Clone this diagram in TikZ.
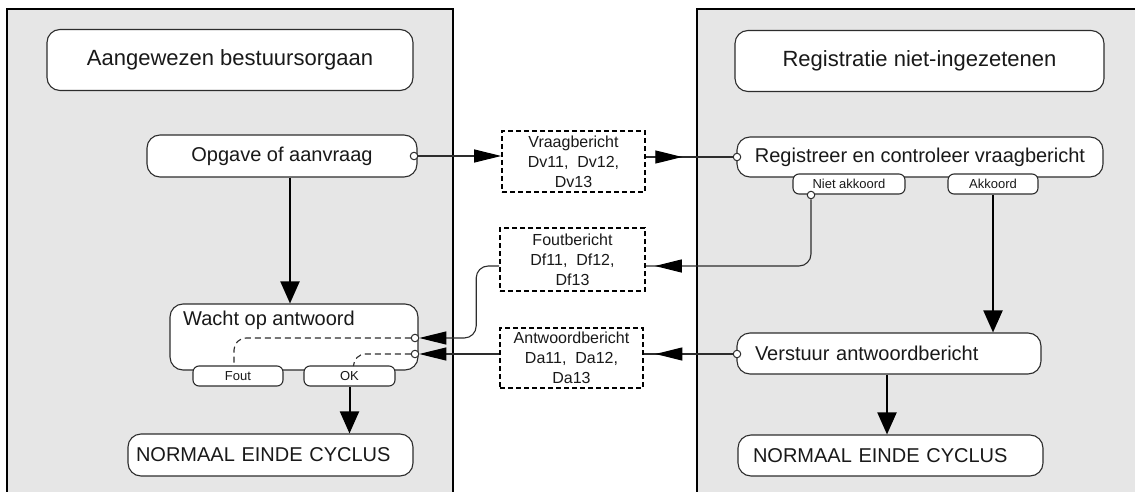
\documentclass[tikz,border=0pt]{standalone}
\usepackage{fontspec}
\setmainfont{Liberation Sans}
\usetikzlibrary{arrows.meta,decorations.markings}
\definecolor{lanegray}{RGB}{230,230,230}
\definecolor{edgegray}{RGB}{45,45,45}
\definecolor{ink}{RGB}{25,25,25}
\tikzset{act/.style={draw=edgegray, line width=1.1pt, fill=white, rounded corners=13pt, text=ink, inner sep=0pt, font=\fontsize{20}{24}\selectfont}}
\tikzset{head/.style={act, font=\fontsize{22}{26}\selectfont, minimum height=61pt}}
\tikzset{msg/.style={draw=black, line width=1.6pt, dash pattern=on 5pt off 3pt, fill=white, text=ink, align=center, inner sep=0pt, font=\fontsize{16}{20}\selectfont}}
\tikzset{tab/.style={draw=edgegray, line width=1.1pt, fill=white, rounded corners=6pt, text=ink, inner sep=0pt, minimum height=20pt, font=\fontsize{13}{15}\selectfont}}
\tikzset{port/.style={circle, draw=edgegray, line width=1pt, fill=white, inner sep=0pt, minimum size=7.5pt}}
\tikzset{flow/.style={line width=2pt, -{Triangle[length=22pt,width=19pt]}}}
\tikzset{wire/.style={draw=edgegray, line width=1.1pt}}
\tikzset{tip/.style={-{Triangle[length=27pt,width=13pt,color=black]}}}
\tikzset{midtip/.style={postaction={decorate}, decoration={markings, mark=at position #1 with {\arrow{Triangle[length=27pt,width=13pt,color=black]}}}}}

\begin{document}
\begin{tikzpicture}[x=1pt,y=-1pt]
    \useasboundingbox (0,0) rectangle (1135,492);
    \clip (0,0) rectangle (1135,492);
    % lanes
    \draw[fill=lanegray, line width=1.3pt] (7,9) rectangle (453,520);
    \draw[fill=lanegray, line width=1.3pt] (697,9) rectangle (1160,520);

    % Aangewezen bestuursorgaan
    \node[head, minimum width=366pt] (orgaan) at (230,60) {Aangewezen bestuursorgaan};
    \node[act, minimum width=270pt, minimum height=42pt] (opgave) at (282,156) {Opgave of aanvraag};
    \node[act, minimum width=248pt, minimum height=66pt] (wacht) at (294,337) {};
    \node[anchor=base west, text=ink, inner sep=0pt, font=\fontsize{20}{24}\selectfont] (wachttxt) at (183,325) {Wacht op antwoord};
    \node[tab, minimum width=90pt] (fout) at (238,376) {Fout};
    \node[tab, minimum width=91pt] (ok) at (349.5,376) {OK};
    \node[act, minimum height=42pt, text width=269pt, inner xsep=8pt, align=left] (eindeL) at (270.5,455) {NORMAAL EINDE CYCLUS};
    \node[port] (opgaveO) at (414,156) {};
    \node[port] (wachtA) at (415,338) {};
    \node[port] (wachtB) at (415,354) {};

    % Registratie niet-ingezetenen
    \node[head, minimum width=369pt] (rni) at (919.5,61) {Registratie niet-ingezetenen};
    \node[act, minimum width=366pt, minimum height=40pt] (registreer) at (920,157) {Registreer en controleer vraagbericht};
    \node[tab, minimum width=112pt] (niet) at (849,184) {Niet akkoord};
    \node[tab, minimum width=90pt] (akkoord) at (993,184) {Akkoord};
    \node[act, minimum height=41pt, text width=268pt, inner xsep=18pt, align=left] (verstuur) at (889,353.5) {Verstuur antwoordbericht};
    \node[act, minimum height=41pt, text width=275pt, inner xsep=15pt, align=left] (eindeR) at (890.5,455.5) {NORMAAL EINDE CYCLUS};
    \node[port] (registreerO) at (737,157) {};
    \node[port] (nietO) at (811,195) {};
    \node[port] (verstuurO) at (737,354) {};

    % berichten
    \node[msg, minimum width=143pt, minimum height=61pt] (vraag) at (573.5,161.5) {Vraagbericht\\Dv11,\ \ Dv12,\\Dv13};
    \node[msg, minimum width=145pt, minimum height=63pt] (foutb) at (572.5,259.5) {Foutbericht\\Df11,\ \ Df12,\\Df13};
    \node[msg, minimum width=143pt, minimum height=60pt] (antw) at (571.5,358) {Antwoordbericht\\Da11,\ \ Da12,\\Da13};

    % verloop
    \draw[flow] ([xshift=8pt]opgave.south) -- ([xshift=8pt]opgave.south |- wacht.north);
    \draw[flow] (ok.south) -- (ok.south |- eindeL.north);
    \draw[flow] (akkoord.south) -- (akkoord.south |- verstuur.north);
    \draw[flow] ([xshift=-2pt]verstuur.south) -- ([xshift=-2pt]verstuur.south |- eindeR.north);
    \draw[edgegray, line width=1.1pt, dash pattern=on 6pt off 4pt, rounded corners=12pt] (wachtA) -| ([xshift=-4pt]fout.north);
    \draw[edgegray, line width=1.1pt, dash pattern=on 6pt off 4pt, rounded corners=12pt] (wachtB) -| ([xshift=4pt]ok.north);

    % berichtenverkeer
    \draw[wire, tip] (opgaveO) -- (opgaveO -| vraag.west);
    \draw[wire, midtip=0.42] (vraag.east |- registreerO) -- (registreerO);
    \draw[wire, rounded corners=12pt, midtip=0.96] (nietO) |- ([yshift=-6.5pt]foutb.east);
    \draw[wire, rounded corners=12pt, tip] ([yshift=-6.5pt]foutb.west) -- ++(-23,0) |- (wachtA);
    \draw[wire, midtip=0.87] (verstuurO) -- (verstuurO -| antw.east);
    \draw[wire, tip] (antw.west |- wachtB) -- (wachtB);
\end{tikzpicture}
\end{document}
